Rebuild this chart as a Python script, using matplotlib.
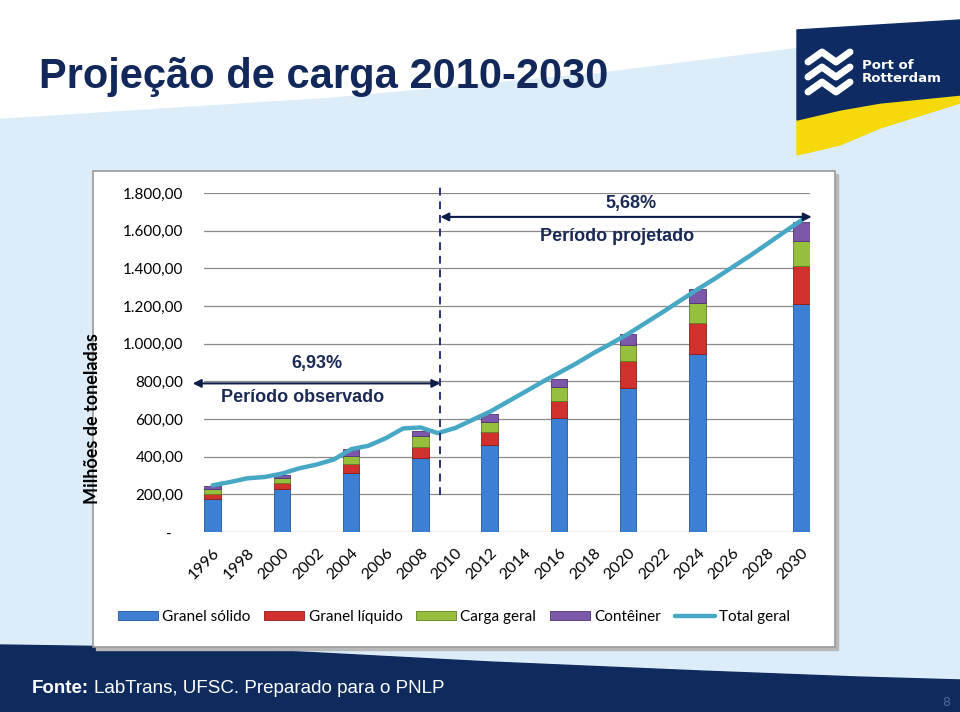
import numpy as np
import matplotlib
matplotlib.use("Agg")
import matplotlib.pyplot as plt
from matplotlib import font_manager
from matplotlib.patches import Polygon, Rectangle

# dados (milhões de toneladas)
anos = list(range(1996, 2031))
total_geral = [248, 265, 285, 292, 310, 338, 358, 385, 440, 458, 498, 550, 555, 525,
               552, 595, 638, 690, 742, 795, 845, 895, 950, 1000, 1052, 1110, 1168,
               1228, 1288, 1345, 1405, 1465, 1528, 1592, 1655]

anos_barras = [1996, 2000, 2004, 2008, 2012, 2016, 2020, 2024, 2030]
granel_solido = [173, 226, 315, 391, 460, 606, 766, 944, 1210]
granel_liquido = [28, 32, 46, 62, 71, 92, 142, 168, 203]
carga_geral = [25, 27, 42, 56, 54, 71, 84, 102, 133]
conteiner = [18, 20, 36, 28, 39, 45, 58, 76, 98]

rotulos_y = ["-   ", "200,00", "400,00", "600,00", "800,00", "1.000,00",
             "1.200,00", "1.400,00", "1.600,00", "1.800,00"]

navy = "#0f2a5c"
txt_navy = "#1b2a55"
fonte_excel = "Lato"

# título em fonte estreita, se existir
try:
    font_manager.findfont(font_manager.FontProperties(family="Liberation Sans Narrow",
                                                      weight="bold"),
                          fallback_to_default=False)
    fonte_titulo, tam_titulo = "Liberation Sans Narrow", 37
except Exception:
    fonte_titulo, tam_titulo = "Liberation Sans", 30

fig = plt.figure(figsize=(9.6, 7.12), dpi=100)

# fundo do slide (coordenadas em pixels, origem no topo)
bg = fig.add_axes([0, 0, 1, 1], zorder=0)
bg.set_xlim(0, 960)
bg.set_ylim(712, 0)
bg.axis("off")
bg.add_patch(Rectangle((0, 0), 960, 712, color="#dcedf9"))

xs = np.linspace(0, 960, 200)
topo = np.interp(xs, [0, 330, 600, 790, 960], [118, 97, 72, 48, 32])
bg.add_patch(Polygon(list(zip(xs, topo)) + [(960, 0), (0, 0)], color="white"))

base = np.interp(xs, [0, 200, 300, 490, 700, 857, 960], [645, 648, 652, 662, 671, 677, 680])
bg.add_patch(Polygon(list(zip(xs, base)) + [(960, 712), (0, 712)], color=navy))

# logo
lx = np.linspace(797, 960, 60)
amarelo_fundo = np.interp(lx, [797, 840, 880, 960], [155, 145, 128, 103])
azul_fundo = np.interp(lx, [797, 840, 880, 960], [120, 110, 103, 95])
bg.add_patch(Polygon(list(zip(lx, amarelo_fundo)) + list(zip(lx[::-1], azul_fundo[::-1])),
                     color="#f5d90a"))
bg.add_patch(Polygon([(797, 30), (960, 20)] + list(zip(lx[::-1], azul_fundo[::-1])),
                     color="#0e2c63"))
for dy in (0, 15, 30):
    bg.plot([808, 822, 836, 850], [62 + dy, 52 + dy, 62 + dy, 52 + dy],
            color="white", lw=5, solid_capstyle="round", solid_joinstyle="round")
bg.text(862, 72, "Port of\nRotterdam", color="white", fontsize=9.5, fontweight="bold",
        family="DejaVu Sans", va="center", ha="left", linespacing=1.0)

# título e rodapé
bg.text(39, 88, "Projeção de carga 2010-2030", fontsize=tam_titulo, fontweight="bold",
        color="#13285a", family=fonte_titulo, va="baseline", ha="left")
t_fonte = bg.text(32, 693, "Fonte:", fontsize=13.5, fontweight="bold", color="white",
                  family="Liberation Sans", va="baseline")
fig.canvas.draw()
ext = t_fonte.get_window_extent()
x_resto = ext.x1 + 5
bg.text(x_resto, 693, "LabTrans, UFSC. Preparado para o PNLP", fontsize=13.5,
        color="white", family="Liberation Sans", va="baseline")
bg.text(946, 702, "8", fontsize=9, color="#4a6a9a", va="center", ha="center")

# caixa do gráfico
bg.add_patch(Rectangle((96, 174), 742, 476, color="#b8b8b8"))
bg.add_patch(Rectangle((93, 171), 742, 476, facecolor="white", edgecolor="#9a9a9a", lw=1.2))
bg.text(93, 419, "Milhões de toneladas", rotation=90, fontsize=13, fontweight="bold",
        family=fonte_excel, va="center", ha="center")

# gráfico
ax = fig.add_axes([204 / 960, 1 - 532 / 712, 606 / 960, (532 - 193) / 712], zorder=1)
ax.patch.set_alpha(0)

idx = {a: i for i, a in enumerate(anos)}
xb = [idx[a] for a in anos_barras]
series = [("Granel sólido", granel_solido, "#3c7fd3", "#22579e"),
          ("Granel líquido", granel_liquido, "#d0312d", "#8e1c1a"),
          ("Carga geral", carga_geral, "#97bf3e", "#5f7f22"),
          ("Contêiner", conteiner, "#7d58aa", "#4d3270")]
handles = []
fundo = np.zeros(len(xb))
for nome, vals, cor, borda in series:
    b = ax.bar(xb, vals, bottom=fundo, width=0.95, color=cor, edgecolor=borda,
               linewidth=0.6, label=nome, zorder=2)
    handles.append(b)
    fundo = fundo + np.array(vals)

linha, = ax.plot(range(len(anos)), total_geral, color="#46a8c4", lw=3.2,
                 label="Total geral", zorder=3, solid_capstyle="round")
handles.append(linha)

ax.set_xlim(-0.5, len(anos) - 0.5)
ax.set_ylim(0, 1800)
ax.set_yticks(range(0, 1801, 200))
ax.set_yticklabels(rotulos_y, fontsize=11, family=fonte_excel)
ax.yaxis.grid(True, color="#8a8a8a", lw=0.9, zorder=0)
ax.set_axisbelow(True)
pares = [i for i, a in enumerate(anos) if a % 2 == 0]
ax.set_xticks(pares)
ax.set_xticklabels([str(anos[i]) for i in pares], rotation=45, ha="right",
                   rotation_mode="anchor", fontsize=11.5, family=fonte_excel)
ax.tick_params(axis="both", length=0)
ax.tick_params(axis="x", pad=10)
ax.tick_params(axis="y", pad=15)
for s in ax.spines.values():
    s.set_visible(False)

# anotações
x_div = 13.15
ax.plot([x_div, x_div], [196, 1840], color="#2a2f7a", lw=1.4, ls=(0, (4, 3)),
        clip_on=False, zorder=4)
seta = dict(arrowstyle="<|-|>", color="#0d1d4a", lw=1.5, mutation_scale=12,
            shrinkA=0, shrinkB=0)
ax.annotate("", xy=(-1.15, 789), xytext=(x_div, 789), arrowprops=seta,
            annotation_clip=False)
ax.annotate("", xy=(x_div, 1673), xytext=(34.6, 1673), arrowprops=seta,
            annotation_clip=False)
ax.text(6.0, 897, "6,93%", fontsize=13, fontweight="bold", color=txt_navy,
        family="Liberation Sans", ha="center", va="center")
ax.text(5.2, 716, "Período observado", fontsize=13, fontweight="bold", color=txt_navy,
        family="Liberation Sans", ha="center", va="center")
ax.text(24.15, 1744, "5,68%", fontsize=13, fontweight="bold", color=txt_navy,
        family="Liberation Sans", ha="center", va="center")
ax.text(23.35, 1567, "Período projetado", fontsize=13, fontweight="bold", color=txt_navy,
        family="Liberation Sans", ha="center", va="center")

fig.legend(handles=handles, labels=[h.get_label() for h in handles], loc="center",
           bbox_to_anchor=(454 / 960, 1 - 617 / 712), ncol=5, frameon=False,
           prop={"family": fonte_excel, "size": 11}, handlelength=2.6,
           handleheight=0.6, columnspacing=0.9, handletextpad=0.3)

fig.savefig("out.png", dpi=100)
